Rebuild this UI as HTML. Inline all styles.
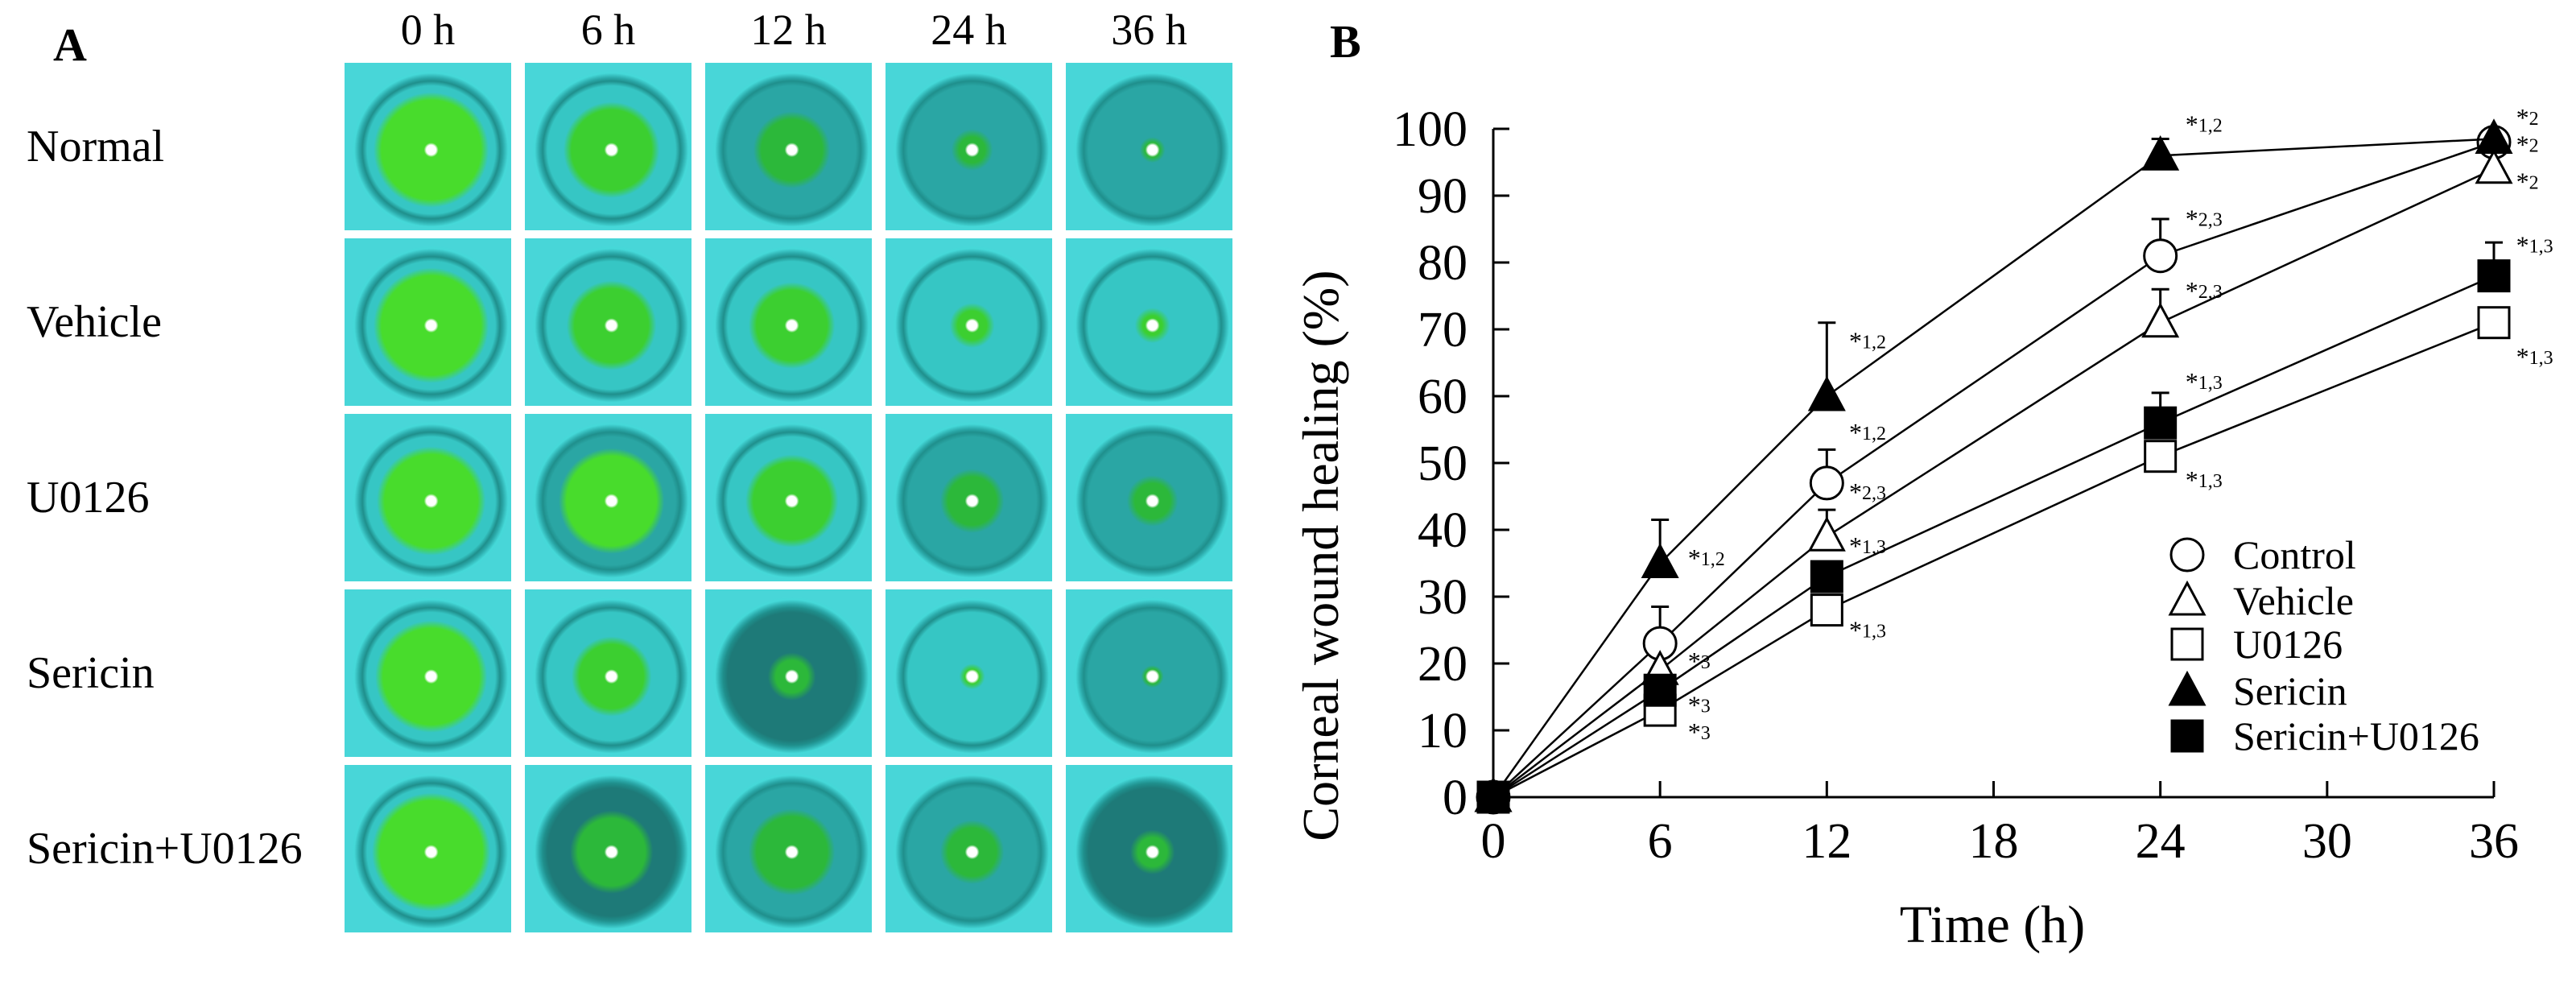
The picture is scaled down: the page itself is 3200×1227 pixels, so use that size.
<!DOCTYPE html>
<html><head><meta charset="utf-8">
<style>
html,body{margin:0;padding:0;background:#fff;}
body{width:3200px;height:1227px;position:relative;overflow:hidden;font-family:"Liberation Serif",serif;}
.cell{position:absolute;width:207px;height:208px;}
.lbl{position:absolute;font-size:56px;color:#000;white-space:nowrap;}
.hdr{position:absolute;font-size:54px;color:#000;width:207px;text-align:center;}
svg{position:absolute;left:0;top:0;}
</style></head>
<body>
<div class="lbl" style="left:66px;top:22px;font-weight:bold;font-size:58px;">A</div>
<div class="lbl" style="left:1652px;top:18px;font-weight:bold;font-size:58px;">B</div>
<div id="photos"></div>
<svg id="chart" width="3200" height="1227" font-family="Liberation Serif, serif"></svg>
<script>
// ---- Panel A ----
const colsA = ["0 h","6 h","12 h","24 h","36 h"];
const rowsA = ["Normal","Vehicle","U0126","Sericin","Sericin+U0126"];
const spot = [[62,50,38,16,6],[62,46,44,18,12],[58,56,48,30,22],[60,40,20,6,4],[64,42,44,30,18]];
const dark = [[0,0,1,1,1],[0,0,0,0,0],[0,1,0,1,1],[0,0,2,0,1],[0,2,1,1,2]];
const photos=document.getElementById('photos');
colsA.forEach((c,j)=>{
  const h=document.createElement('div');h.className='hdr';h.textContent=c;
  h.style.left=(428+j*224)+'px';h.style.top='6px';
  
  
  photos.appendChild(h);
});
rowsA.forEach((r,i)=>{
  const l=document.createElement('div');l.className='lbl';l.textContent=r;
  l.style.left='33px';l.style.top=(78+i*218+72)+'px';
  
  
  photos.appendChild(l);
  colsA.forEach((c,j)=>{
    const d=document.createElement('div');d.className='cell';
    d.style.left=(428+j*224)+'px';d.style.top=(78+i*218)+'px';
    const s=spot[i][j];const dk=dark[i][j];
    const g = s>50?'#48dc2c':(dk?'#2cb83a':'#3ccf30');
    const iris = dk===2?'#1e7a78':(dk?'#2aa6a4':'#36c6c4');
    d.style.background=`radial-gradient(circle closest-side at 52% 52%, #fff 0 6%, ${g} 9% ${s}%, ${iris} ${s+10}%, ${iris} 80%, #1f8f8c 86%, #2aa8a8 90%, #45d8d8 96%, #48d6d8 100%)`;
    d.style.backgroundColor='#48d6d8';
    
    
    photos.appendChild(d);
  });
});

// ---- Panel B ----
const times = [0,6,12,24,36];
const control = [0,23,47,81,98];
const vehicle = [0,19,39,71,94];
const u0126 = [0,13,28,51,71];
const sericin = [0,35,60,96,98.5];
const sericinU = [0,16,33,56,78];
const controlErr = [0,28.5,52,86.5,98];
const vehicleErr = [0,19,43,76,94];
const u0126Err = [0,13,28,52,71];
const sericinErr = [0,41.5,71,98.5,98.5];
const sericinUErr = [0,18,33,60.5,83];
const xTicks = [0,6,12,18,24,30,36];
const yTicks = [0,10,20,30,40,50,60,70,80,90,100];
const noteText = ["*2","*2","*2","*1,2","*2,3","*1,3","*2,3","*1,2","*1,3","*1,3","*1,2","*1,3","*2,3","*1,3","*1,2","*3","*1,3","*3","*3"];
const noteT = [36.8,36.8,36.8,24.9,24.9,36.8,24.9,12.8,24.9,36.8,12.8,24.9,12.8,12.8,7.0,7.0,12.8,7.0,7.0];
const noteV = [101.8,97.8,92.2,100.8,86.7,82.7,75.9,68.4,62.3,66,54.7,47.6,45.8,37.7,35.9,20.5,25.1,13.9,9.9];

const X0=1855,X1=3098,Y0=990,Y1=160;
const sx=t=>X0+(t/36)*(X1-X0);
const sy=v=>Y0-(v/100)*(Y0-Y1);
const svg=document.getElementById('chart');
const NS='http://www.w3.org/2000/svg';
function mk(tag,attrs,parent){const e=document.createElementNS(NS,tag);for(const k in attrs)e.setAttribute(k,attrs[k]);(parent||svg).appendChild(e);return e;}

const ax=mk('g',{});


mk('line',{x1:X0,y1:Y1,x2:X0,y2:Y0,stroke:'#000','stroke-width':3},ax);
mk('line',{x1:X0,y1:Y0,x2:X1,y2:Y0,stroke:'#000','stroke-width':3},ax);
yTicks.forEach(v=>{
  mk('line',{x1:X0,y1:sy(v),x2:X0+20,y2:sy(v),stroke:'#000','stroke-width':3},ax);
  const t=mk('text',{x:X0-32,y:sy(v)+21,'font-size':62,'text-anchor':'end'},ax);t.textContent=v;
  
  
});
xTicks.forEach(v=>{
  mk('line',{x1:sx(v),y1:Y0,x2:sx(v),y2:Y0-20,stroke:'#000','stroke-width':3},ax);
  const t=mk('text',{x:sx(v),y:Y0+75,'font-size':62,'text-anchor':'middle'},ax);t.textContent=v;
  
  
});
const xt=mk('text',{x:2475,y:1170,'font-size':66,'text-anchor':'middle'});xt.textContent='Time (h)';


const yt=mk('text',{x:0,y:0,'font-size':64,'text-anchor':'middle',transform:'translate(1662,690) rotate(-90)'});yt.textContent='Corneal wound healing (%)';



function marker(kind,x,y,g){
  const st={stroke:'#000','stroke-width':3};
  if(kind==='circle')return mk('circle',Object.assign({cx:x,cy:y,r:20,fill:'#fff'},st),g);
  if(kind==='tri'||kind==='ftri')return mk('polygon',Object.assign({points:`${x},${y-22} ${x+21},${y+17} ${x-21},${y+17}`,fill:kind==='ftri'?'#000':'#fff'},st),g);
  return mk('rect',Object.assign({x:x-19,y:y-19,width:38,height:38,fill:kind==='fsq'?'#000':'#fff'},st),g);
}
const series=[
  {name:'Control',vals:control,err:controlErr,kind:'circle'},
  {name:'Vehicle',vals:vehicle,err:vehicleErr,kind:'tri'},
  {name:'U0126',vals:u0126,err:u0126Err,kind:'sq'},
  {name:'Sericin',vals:sericin,err:sericinErr,kind:'ftri'},
  {name:'Sericin+U0126',vals:sericinU,err:sericinUErr,kind:'fsq'}
];
series.forEach(s=>{
  const g=mk('g',{});
  
  
  const ln=mk('polyline',{points:times.map((t,i)=>sx(t)+','+sy(s.vals[i])).join(' '),fill:'none',stroke:'#000','stroke-width':2.5},g);
  
  
  times.forEach((t,i)=>{
    if(s.err[i]>s.vals[i]+0.5){
      mk('line',{x1:sx(t),y1:sy(s.vals[i]),x2:sx(t),y2:sy(s.err[i]),stroke:'#000','stroke-width':3},g);
      mk('line',{x1:sx(t)-11,y1:sy(s.err[i]),x2:sx(t)+11,y2:sy(s.err[i]),stroke:'#000','stroke-width':3},g);
    }
  });
  times.forEach((t,i)=>{
    const m=marker(s.kind,sx(t),sy(s.vals[i]),g);
    
    
  });
});
noteText.forEach((txt,i)=>{
  const t=mk('text',{x:sx(noteT[i]),y:sy(noteV[i])+12,'font-size':32});
  
  
  const a=mk('tspan',{},t);a.textContent='*';
  const b=mk('tspan',{'font-size':24,dy:-2},t);b.textContent=txt.slice(1);
});
// legend
const lg=mk('g',{});


const legY=[689,746,800,858,914];
series.forEach((s,i)=>{
  const e=mk('g',{},lg);
  
  
  marker(s.kind,2717,legY[i],e);
  const t=mk('text',{x:2774,y:legY[i]+17,'font-size':50},e);t.textContent=s.name;
});
</script>
</body></html>
